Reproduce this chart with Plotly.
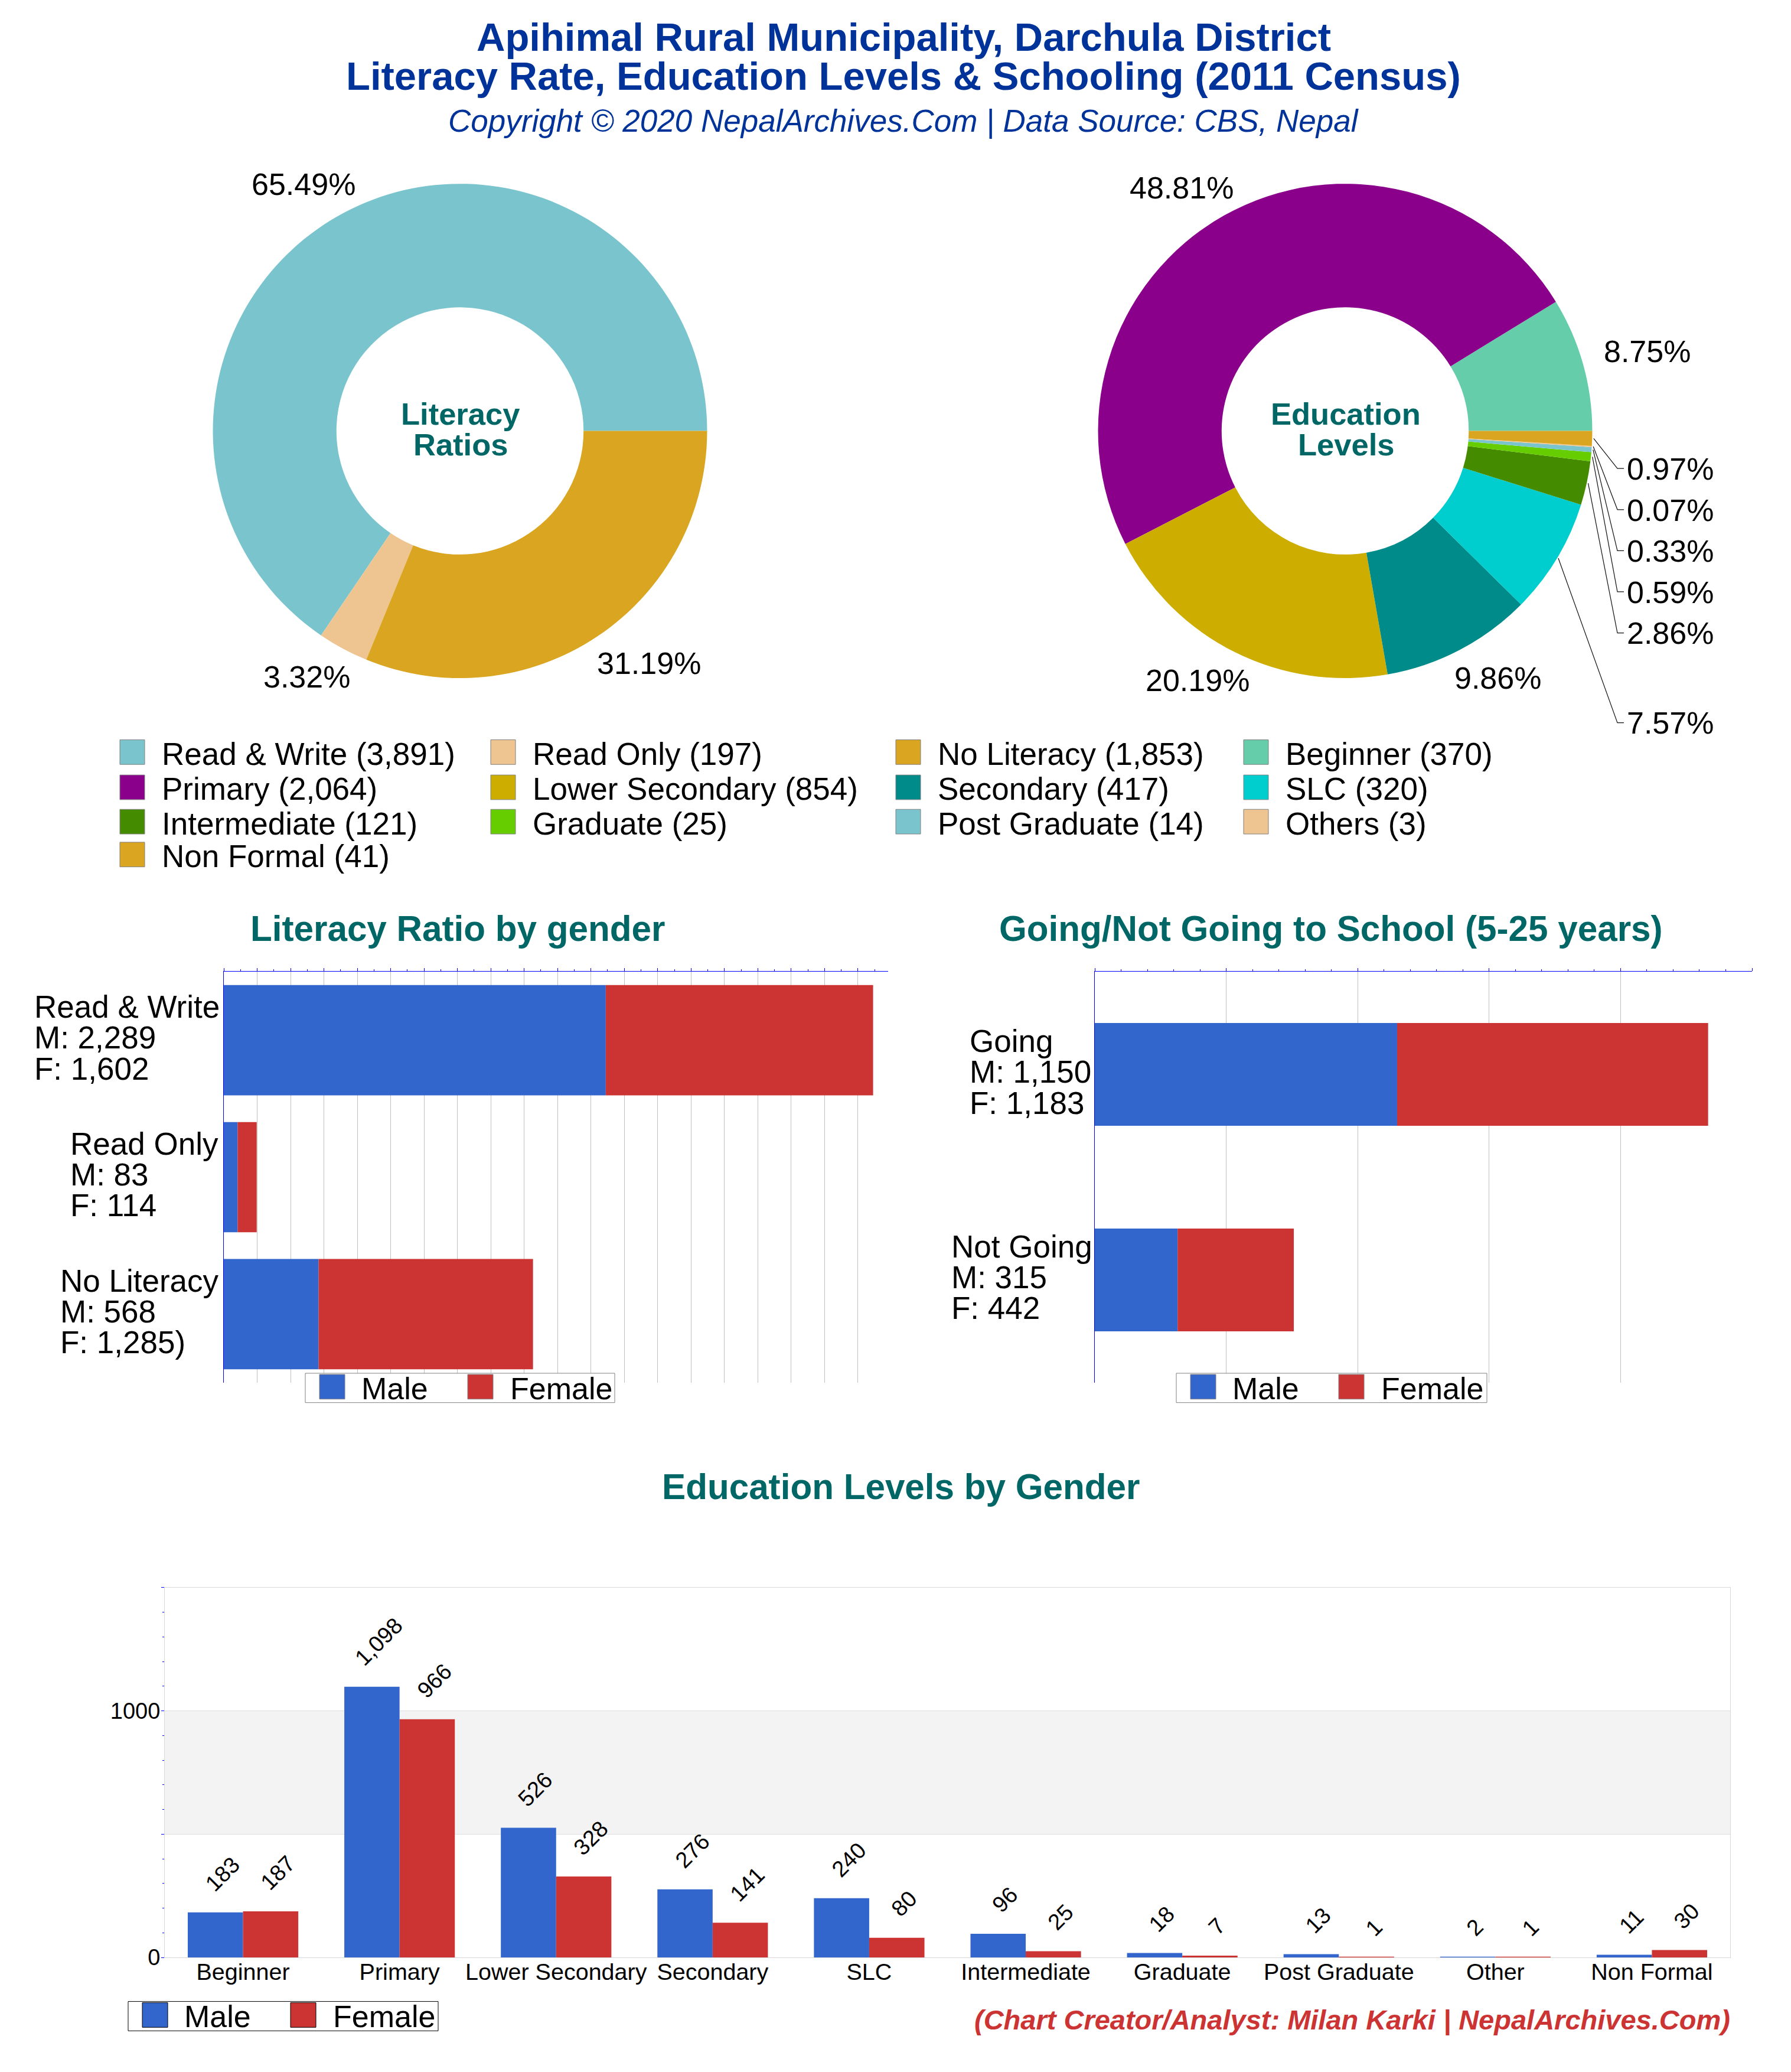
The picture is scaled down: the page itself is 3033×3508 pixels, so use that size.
import math
import plotly.graph_objects as go

W, H = 3033, 3508
FONT = "Liberation Sans"
BLUE, RED = "#3366cc", "#cc3333"
TEAL = "#006666"
NAVY = "#003399"

lit_labels = ["Read & Write", "Read Only", "No Literacy"]
lit_values = [3891, 197, 1853]
lit_colors = ["#7ac5cd", "#eec591", "#daa520"]
lit_pct = ["65.49%", "3.32%", "31.19%"]

edu_labels = ["Beginner", "Primary", "Lower Secondary", "Secondary", "SLC", "Intermediate",
              "Graduate", "Post Graduate", "Others", "Non Formal"]
edu_values = [370, 2064, 854, 417, 320, 121, 25, 14, 3, 41]
edu_colors = ["#66cdaa", "#8b008b", "#cdad00", "#008b8b", "#00cdcd", "#458b00",
              "#66cd00", "#7ac5cd", "#eec591", "#daa520"]
edu_pct = ["8.75%", "48.81%", "20.19%", "9.86%", "7.57%", "2.86%", "0.59%", "0.33%", "0.07%", "0.97%"]

lit_bar_cats = ["Read & Write", "Read Only", "No Literacy"]
lit_bar_text = [["Read &amp; Write", "M: 2,289", "F: 1,602"], ["Read Only", "M: 83", "F: 114"], ["No Literacy", "M: 568", "F: 1,285)"]]
lit_male = [2289, 83, 568]
lit_female = [1602, 114, 1285]

sch_cats = ["Going", "Not Going"]
sch_text = [["Going", "M: 1,150", "F: 1,183"], ["Not Going", "M: 315", "F: 442"]]
sch_male = [1150, 315]
sch_female = [1183, 442]

lvl_cats = ["Beginner", "Primary", "Lower Secondary", "Secondary", "SLC", "Intermediate",
            "Graduate", "Post Graduate", "Other", "Non Formal"]
lvl_male = [183, 1098, 526, 276, 240, 96, 18, 13, 2, 11]
lvl_female = [187, 966, 328, 141, 80, 25, 7, 1, 1, 30]

legend_rows = [
    ["Read & Write (3,891)", "Read Only (197)", "No Literacy (1,853)", "Beginner (370)"],
    ["Primary (2,064)", "Lower Secondary (854)", "Secondary (417)", "SLC (320)"],
    ["Intermediate (121)", "Graduate (25)", "Post Graduate (14)", "Others (3)"],
    ["Non Formal (41)"],
]
legend_colors = [lit_colors + [edu_colors[0]], edu_colors[1:5], edu_colors[5:9], edu_colors[9:]]


def px(x):
    return x / W


def py(y):
    return 1 - y / H


def dom_x(a, b):
    return [px(a), px(b)]


def dom_y(top, bottom):
    return [py(bottom), py(top)]


PIE_R = 421
LC = (779, 734)
RC = (2278, 734)


def first_rotation(values):
    # plotly ends a counter-clockwise first slice at `rotation`; start it at 3 o'clock instead
    return 90 - values[0] / sum(values) * 360


fig = go.Figure()
fig.add_trace(go.Pie(labels=lit_labels, values=lit_values, hole=0.5, sort=False, direction="counterclockwise",
                     rotation=first_rotation(lit_values), marker=dict(colors=lit_colors, line=dict(width=0)), textinfo="none", showlegend=False,
                     domain=dict(x=dom_x(LC[0]-PIE_R, LC[0]+PIE_R), y=dom_y(LC[1]-PIE_R, LC[1]+PIE_R))))
fig.add_trace(go.Pie(labels=edu_labels, values=edu_values, hole=0.5, sort=False, direction="counterclockwise",
                     rotation=first_rotation(edu_values), marker=dict(colors=edu_colors, line=dict(width=0)), textinfo="none", showlegend=False,
                     domain=dict(x=dom_x(RC[0]-PIE_R, RC[0]+PIE_R), y=dom_y(RC[1]-PIE_R, RC[1]+PIE_R))))

for m, f, cats, xa, ya, bw in [(lit_male, lit_female, lit_bar_cats, "x", "y", 0.805),
                               (sch_male, sch_female, sch_cats, "x2", "y2", 0.5)]:
    fig.add_trace(go.Bar(y=cats, x=m, orientation="h", width=bw, marker=dict(color=BLUE, line_width=0), xaxis=xa, yaxis=ya, showlegend=False))
    fig.add_trace(go.Bar(y=cats, x=f, base=m, orientation="h", width=bw, marker=dict(color=RED, line_width=0), xaxis=xa, yaxis=ya, showlegend=False))

fig.add_trace(go.Bar(x=lvl_cats, y=lvl_male, width=0.353, offset=-0.353, marker=dict(color=BLUE, line_width=0), xaxis="x3", yaxis="y3", showlegend=False))
fig.add_trace(go.Bar(x=lvl_cats, y=lvl_female, width=0.353, offset=0, marker=dict(color=RED, line_width=0), xaxis="x3", yaxis="y3", showlegend=False))

annots = []
shapes = []


def text(x, baseline, s, size, color="#000000", bold=False, italic=False, xanchor="center"):
    """Place one text line by its baseline (a box's middle sits about 0.33 em above it)."""
    if bold:
        s = "<b>" + s + "</b>"
    if italic:
        s = "<i>" + s + "</i>"
    annots.append(dict(x=px(x), y=py(baseline - 0.33 * size), xref="paper", yref="paper", text=s, showarrow=False,
                       xanchor=xanchor, yanchor="middle", align="left",
                       font=dict(family=FONT, size=size, color=color)))


# header
text(1530, 85, "Apihimal Rural Municipality, Darchula District", 67, NAVY, bold=True)
text(1530, 151, "Literacy Rate, Education Levels &amp; Schooling (2011 Census)", 67, NAVY, bold=True)
text(1530, 224, "Copyright © 2020 NepalArchives.Com | Data Source: CBS, Nepal", 53, NAVY, italic=True)

# donut centres
text(780, 722, "Literacy", 52.5, TEAL, bold=True)
text(780, 774, "Ratios", 52.5, TEAL, bold=True)
text(2279, 722, "Education", 52.5, TEAL, bold=True)
text(2279, 774, "Levels", 52.5, TEAL, bold=True)

# outer percent labels
LBL = 52
lit_pos = [(514, 331), (519, 1170), (1099, 1147)]
for s, (x, y) in zip(lit_pct, lit_pos):
    text(x, y, s, LBL)
edu_big = {"48.81%": (2001, 337), "8.75%": (2789, 616), "9.86%": (2536, 1172), "20.19%": (2028, 1176)}
for s, (x, y) in edu_big.items():
    text(x, y, s, LBL)

# leader lines for the small slices: slice mid-angle from the data
total = sum(edu_values)
cum = 0
mids = {}
for v, p in zip(edu_values, edu_pct):
    mids[p] = math.radians((cum + v / 2) / total * 360)
    cum += v
small = [("0.97%", 798), ("0.07%", 868), ("0.33%", 938), ("0.59%", 1008), ("2.86%", 1078), ("7.57%", 1231)]
ELBOW, END = 2739, 2750
for p, ly in small:
    a = mids[p]
    sx = RC[0] + PIE_R * math.cos(a)
    sy = RC[1] - PIE_R * math.sin(a)
    shapes.append(dict(type="path", xref="paper", yref="paper",
                       path=f"M{px(sx)},{py(sy)} L{px(ELBOW)},{py(ly)} L{px(END)},{py(ly)}",
                       line=dict(color="#111111", width=1.2)))
    text(2753, ly + 18, p, LBL, xanchor="left")

# big legend
col_x = [203, 831, 1517, 2106]
row_y = [1281, 1341, 1399.5, 1455.5]
row_base = [1302, 1361, 1420, 1476]
SW = 42
for r, (labs, cols) in enumerate(zip(legend_rows, legend_colors)):
    for c, (lab, col) in enumerate(zip(labs, cols)):
        x = col_x[c]
        y = row_y[r]
        shapes.append(dict(type="rect", xref="paper", yref="paper", x0=px(x), x1=px(x+SW), y0=py(y-SW/2), y1=py(y+SW/2),
                           fillcolor=col, line=dict(width=1, color="#808080")))
        text(x + 69, row_base[r], lab.replace("&", "&amp;"), 53, xanchor="left")

# section titles
text(775, 1602, "Literacy Ratio by gender", 60.2, TEAL, bold=True)
text(2254, 1602, "Going/Not Going to School (5-25 years)", 60.2, TEAL, bold=True)
text(1526, 2553, "Education Levels by Gender", 60.2, TEAL, bold=True)
text(2932, 3456, "(Chart Creator/Analyst: Milan Karki | NepalArchives.Com)", 47, RED, bold=True, italic=True, xanchor="right")


def small_legend(x, y, w, h, edge):
    shapes.append(dict(type="rect", xref="paper", yref="paper", x0=px(x), x1=px(x+w), y0=py(y), y1=py(y+h),
                       fillcolor="#ffffff", line=dict(color=edge, width=1), layer="above"))
    for col, dx, lab, tx in [(BLUE, 24, "Male", 93), (RED, 275, "Female", 345)]:
        shapes.append(dict(type="rect", xref="paper", yref="paper", x0=px(x+dx), x1=px(x+dx+43), y0=py(y+2), y1=py(y+44),
                           fillcolor=col, line=dict(color=edge, width=1), layer="above"))
        text(x + tx, y + 43, lab, 52, xanchor="left")


small_legend(517, 2339, 524, 50, "#808080")
small_legend(1992, 2339, 526, 50, "#808080")
small_legend(217, 3409, 525, 50, "#000000")

# y category labels on the bar charts: stacked lines, left-aligned against the axis
LINE_SHIFT = [56.5, 4.5, -48]
for cats, texts, lefts, xr, yr in [(lit_bar_cats, lit_bar_text, [-323, -262, -279], "x", "y"),
                                   (sch_cats, sch_text, [-214, -245], "x2", "y2")]:
    for cat, lines, left in zip(cats, texts, lefts):
        for s, dy in zip(lines, LINE_SHIFT):
            annots.append(dict(x=0, y=cat, xref=xr, yref=yr, text=s, showarrow=False, xanchor="left", yanchor="middle",
                               xshift=left, yshift=dy, align="left", font=dict(family=FONT, size=53)))

# rotated data labels
for i, cat in enumerate(lvl_cats):
    for v, off in [(lvl_male[i], -0.1765), (lvl_female[i], 0.1765)]:
        annots.append(dict(x=i + off, y=v, xref="x3", yref="y3", text=f"{v:,}", showarrow=False,
                           textangle=-45, yanchor="bottom", xanchor="center", yshift=25, xshift=12,
                           font=dict(family=FONT, size=38)))

GRID = "#bfbfbf"
TICK = "#0000ff"
lit_ax = dict(domain=dom_x(379, 1504), anchor="y", side="top", range=[0, 3981], tickmode="linear", tick0=0, dtick=200,
              showticklabels=False, showgrid=True, gridcolor=GRID, gridwidth=1, ticks="outside", ticklen=5, tickcolor=TICK,
              tickwidth=1, showline=True, linecolor=TICK, linewidth=1, zeroline=False,
              minor=dict(dtick=100, ticks="outside", ticklen=3, tickcolor=TICK, tickwidth=1, showgrid=False))
sch_ax = dict(lit_ax, domain=dom_x(1854, 2967), anchor="y2", range=[0, 2500], dtick=500,
              minor=dict(dtick=100, ticks="outside", ticklen=3, tickcolor=TICK, tickwidth=1, showgrid=False))

fig.update_layout(
    width=W, height=H, autosize=False, margin=dict(l=0, r=0, t=0, b=0),
    paper_bgcolor="#ffffff", plot_bgcolor="rgba(0,0,0,0)",
    font=dict(family=FONT, color="#000000"),
    barmode="overlay",
    xaxis=lit_ax,
    yaxis=dict(domain=dom_y(1655, 2355), anchor="x", autorange="reversed", showticklabels=False, ticks="",
               showline=True, linecolor=TICK, linewidth=1, showgrid=False, zeroline=False),
    xaxis2=sch_ax,
    yaxis2=dict(domain=dom_y(1655, 2355), anchor="x2", autorange="reversed", showticklabels=False, ticks="",
                showline=True, linecolor=TICK, linewidth=1, showgrid=False, zeroline=False),
    xaxis3=dict(domain=dom_x(279, 2930), anchor="y3", showgrid=False, ticks="", showline=True, linecolor="#d9d9d9", linewidth=1,
                mirror=True, tickfont=dict(family=FONT, size=39.5), zeroline=False, ticklabelstandoff=-10, tickangle=0),
    yaxis3=dict(domain=dom_y(2704, 3334), anchor="x3", range=[0, 1500], tickmode="array", tickvals=[0, 500, 1000, 1500],
                ticktext=["0", "", "1000", ""], tickfont=dict(family=FONT, size=38), ticks="outside", ticklen=5, tickcolor=TICK,
                tickwidth=1, showgrid=True, gridcolor="#dddddd", gridwidth=1, zeroline=False, showline=True, mirror=True,
                linecolor="#d9d9d9", linewidth=1, ticklabelstandoff=-6,
                minor=dict(dtick=100, ticks="outside", ticklen=3, tickcolor=TICK, tickwidth=1, showgrid=False)),
    annotations=annots,
    shapes=shapes,
)
# grey band belongs to the y scale of the lower chart
fig.add_shape(type="rect", xref="x3 domain", yref="y3", x0=0, x1=1, y0=500, y1=1000, fillcolor="#f3f3f3", line_width=0, layer="below")

fig.write_html("out.html", config={"displayModeBar": False},
               post_script="document.body.style.margin='0';document.documentElement.style.overflow='hidden';document.body.style.overflow='hidden';")
